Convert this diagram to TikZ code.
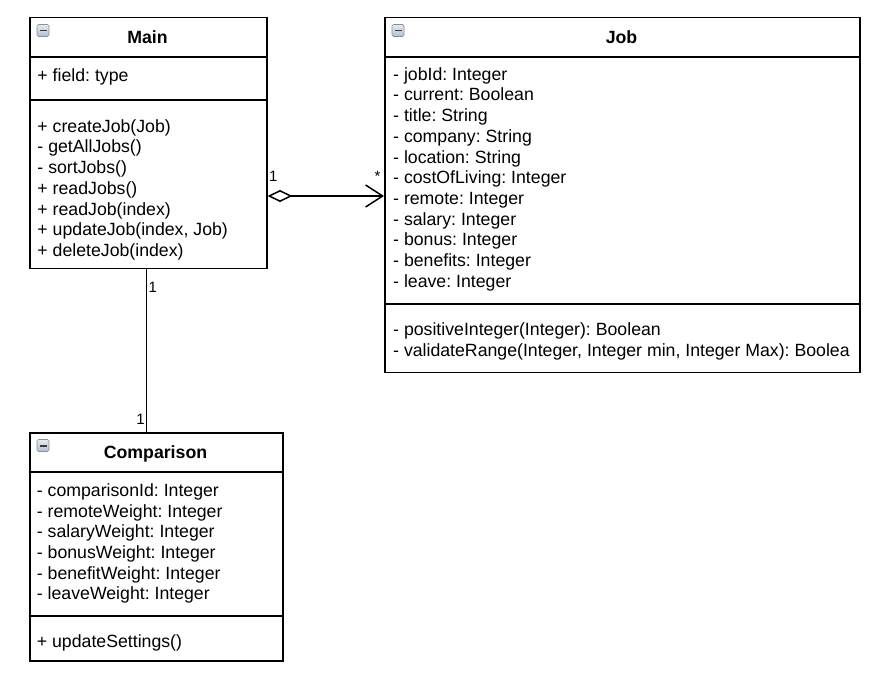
\documentclass[tikz,border=0pt]{standalone}
\usepackage{fontspec}
\setmainfont{Liberation Sans}
\usetikzlibrary{arrows.meta}
\frenchspacing
\definecolor{iconfillA}{HTML}{E6EAF0}
\definecolor{iconfillB}{HTML}{B3BECC}
\definecolor{iconline}{HTML}{8590A0}
\definecolor{iconbar}{HTML}{3C3C3C}
\tikzset{
  umlbox/.style={draw=black, line width=1.5pt, fill=white, rectangle, inner sep=0pt, anchor=north west},
  sepline/.style={line width=1.5pt},
  txt/.style={anchor=base west, inner sep=0pt, font=\fontsize{17.7}{20.7}\selectfont},
  ttl/.style={anchor=base, inner sep=0pt, font=\fontsize{17.7}{20.7}\selectfont\bfseries},
  mult/.style={anchor=base, inner sep=0pt, font=\fontsize{15}{17}\selectfont},
  conn/.style={line width=1.5pt},
  agg/.style={conn, {Diamond[open, length=25pt, width=12pt, fill=white]}-{Straight Barb[length=17pt, width=22pt]}},
  icon/.style={draw=iconline, line width=0.7pt, rounded corners=1.5pt, top color=iconfillA, bottom color=iconfillB}
}
\newcommand{\collapseicon}[2]{%
  \draw[icon] (#1,#2) rectangle ++(12,12);
  \fill[iconbar] (#1+2.5,#2+5.1) rectangle ++(7,1.9);
}
\begin{document}
\begin{tikzpicture}[x=1pt, y=-1pt]
\useasboundingbox (0,0) rectangle (884,676);

% ---- Main ----
\node[umlbox, minimum width=237pt, minimum height=251pt] (main) at (29,17) {};
\draw[sepline] (29,57) -- (266,57);
\draw[sepline] (29,100) -- (266,100);
\collapseicon{37}{24.5}
\node[ttl] (maint) at (147.5,44) {Main};
\node[txt] (mainf) at (37.3,81.7) {+ field: type};
\foreach \t [count=\i] in {{+ createJob(Job)},{- getAllJobs()},{- sortJobs()},{+ readJobs()},{+ readJob(index)},{+ updateJob(index, Job)},{+ deleteJob(index)}}
  \node[txt] (mainm\i) at (37.3,132.3+\i*20.7-20.7) {\t};

% ---- Job ----
\node[umlbox, minimum width=475pt, minimum height=355pt] (job) at (384,17) {};
\draw[sepline] (384,57) -- (859,57);
\draw[sepline] (384,304) -- (859,304);
\collapseicon{392}{24.5}
\node[ttl] (jobt) at (621.5,43.5) {Job};
\foreach \t [count=\i] in {{- jobId: Integer},{- current: Boolean},{- title: String},{- company: String},{- location: String},{- costOfLiving: Integer},{- remote: Integer},{- salary: Integer},{- bonus: Integer},{- benefits: Integer},{- leave: Integer}}
  \node[txt] (jobf\i) at (393,80.3+\i*20.7-20.7) {\t};
\node[txt] (jobm1) at (393,335.3) {- positiveInteger(Integer): Boolean};
\node[txt] (jobm2) at (393,356.3) {- validateRange(Integer, Integer min, Integer Max): Boolea};

% ---- Comparison ----
\node[umlbox, minimum width=253pt, minimum height=228pt] (comp) at (29,432) {};
\draw[sepline] (29,472) -- (282,472);
\draw[sepline] (29,616) -- (282,616);
\collapseicon{37}{439.5}
\node[ttl] (compt) at (155.5,458.5) {Comparison};
\foreach \t [count=\i] in {{- comparisonId: Integer},{- remoteWeight: Integer},{- salaryWeight: Integer},{- bonusWeight: Integer},{- benefitWeight: Integer},{- leaveWeight: Integer}}
  \node[txt] (compf\i) at (36.7,496.3+\i*20.7-20.7) {\t};
\node[txt] (compm1) at (36.7,647.3) {+ updateSettings()};

% ---- connectors ----
\coordinate (ah) at (0,196);
\draw[agg] (main.east |- ah) -- (job.west |- ah);
\node[mult] (m1) at (273.3,181.7) {1};
\node[mult] (m2) at (377.5,181.7) {*};

\coordinate (vx) at (146.7,0);
\draw[conn] (main.south -| vx) -- (comp.north -| vx);
\node[mult] (m3) at (152.9,292.3) {1};
\node[mult] (m4) at (140.5,424.3) {1};
\end{tikzpicture}
\end{document}
